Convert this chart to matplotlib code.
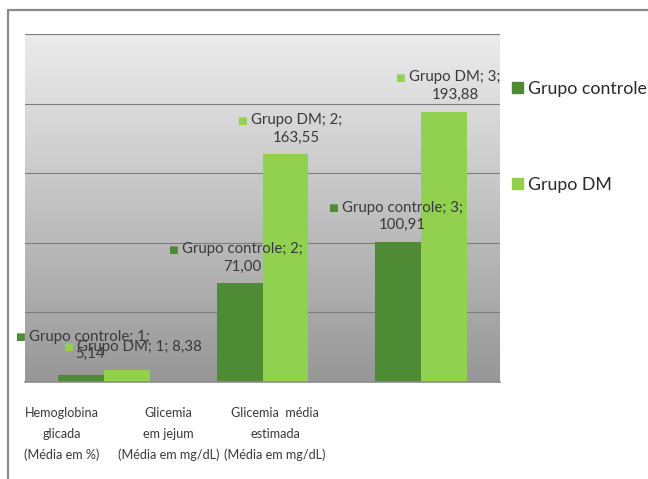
import numpy as np
import matplotlib.pyplot as plt
from matplotlib.colors import LinearSegmentedColormap
from matplotlib.patches import Patch
from matplotlib.lines import Line2D

plt.rcParams['font.family'] = ['Lato', 'DejaVu Sans']

categorias = ['Hemoglobina\nglicada\n(Média em %)',
              'Glicemia\nem jejum\n(Média em mg/dL)',
              'Glicemia  média\nestimada\n(Média em mg/dL)']
series = ['Grupo controle', 'Grupo DM']
controle = [5.14, 71.00, 100.91]
dm = [8.38, 163.55, 193.88]
cores = ['#4f8a34', '#92d050']

# deslocamento dos rotulos (pontos) - os do primeiro grupo ficam sobrepostos como no original
desloc = {(0, 0): (6, 10), (1, 0): (9, 12), (0, 1): (2, 7), (0, 2): (3, 7),
          (1, 1): (8, 7), (1, 2): (8, 7.5)}
uma_linha = {(1, 0)}

fig = plt.figure(figsize=(6.48, 4.79), dpi=100)
ax = fig.add_axes([25 / 648, 1 - 382 / 479, 475 / 648, 348 / 479])

# moldura externa
fig.add_artist(Line2D([8 / 648, 8 / 648, 1], [0, 1 - 10 / 479, 1 - 10 / 479],
                      transform=fig.transFigure, color='#8a8a8a', lw=1.6))

ymax = 250
cmap = LinearSegmentedColormap.from_list('fundo', ['#979797', '#ececec'])
ax.imshow(np.linspace(1, 0, 256).reshape(-1, 1), cmap=cmap, aspect='auto',
          extent=[-0.5, 2.5, 0, ymax], zorder=0)

x = np.arange(len(categorias))
w = 0.29
for j, (vals, cor) in enumerate(zip([controle, dm], cores)):
    xs = x + (j - 0.5) * w
    ax.bar(xs, vals, w, color=cor, zorder=2)
    for i, (xi, v) in enumerate(zip(xs, vals)):
        txt_v = f'{v:.2f}'.replace('.', ',')
        if (j, i) in uma_linha:
            s = f'{series[j]}; {i + 1}; {txt_v}'
        else:
            s = f'{series[j]}; {i + 1};\n{txt_v}'
        dx, dy = desloc.get((j, i), (4, 7))
        t = ax.annotate(s, (xi, v), xytext=(dx, dy), textcoords='offset points',
                        ha='center', va='bottom', fontsize=10.8, color='#3a3a3a',
                        linespacing=1.3, zorder=4)
        ax.annotate('■', (0, 1), xycoords=t, xytext=(-3, -2), textcoords='offset points',
                    ha='right', va='top', fontsize=7.5, color=cor,
                    family='DejaVu Sans', zorder=4)

ax.set_xlim(-0.5, 2.5)
ax.set_ylim(0, ymax)
for g in [50, 100, 150, 200, 250]:
    ax.axhline(g, color='#7d7d7d', lw=0.8, zorder=1)

# no original os nomes das categorias ficam comprimidos para a esquerda
ax.set_yticks([])
ax.set_xticks(x * 0.675 - 0.27)
ax.set_xticklabels(categorias, fontsize=9.1, color='#3a3a3a', linespacing=1.85)
ax.tick_params(axis='x', length=0, pad=18)
for s in ['top', 'right', 'left']:
    ax.spines[s].set_visible(False)
ax.spines['bottom'].set_color('#8c8c8c')
ax.spines['bottom'].set_linewidth(1.2)

handles = [Patch(color=c) for c in cores]
fig.legend(handles, series, loc='upper left', bbox_to_anchor=(512 / 648, 1 - 81 / 479),
           frameon=False, fontsize=12.8, handlelength=0.6, handleheight=0.6,
           handletextpad=0.3, labelspacing=4.5, borderaxespad=0, borderpad=0,
           labelcolor='#2a2a2a')

plt.savefig('out.png', dpi=100)
